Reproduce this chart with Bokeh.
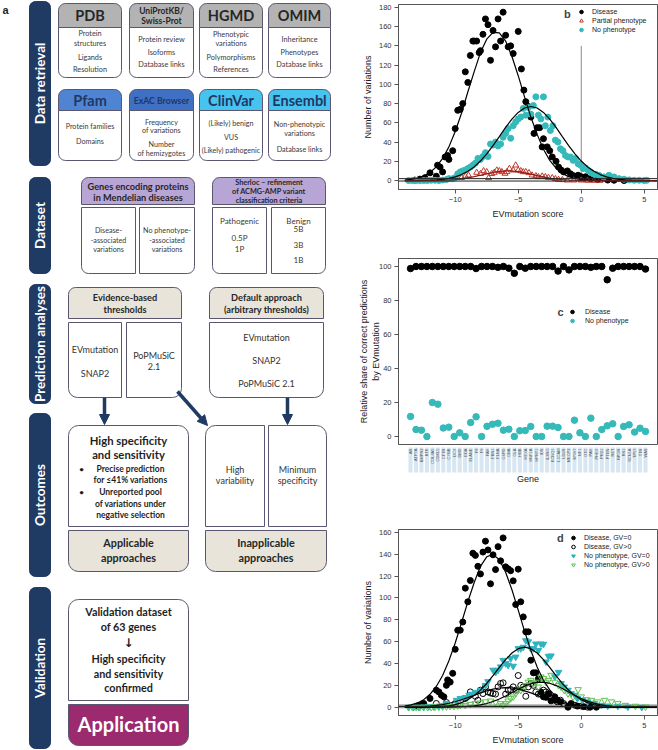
import math
from bokeh.plotting import figure
from bokeh.models import (Range1d, Legend, LegendItem, Label, Span, BoxAnnotation,
                          Arrow, NormalHead, FixedTicker)
from bokeh.layouts import row, column
from bokeh.embed import file_html
from bokeh.resources import INLINE
from bokeh.core.properties import value

# ------------------------------------------------------------------ data: panel b
b_dis_x = [-13.2, -12.8, -12.4, -12.0, -11.5, -11.4, -11.2, -11.0, -10.8, -10.6, -10.5, -10.2,
           -10.0, -9.8, -9.6, -9.4, -9.2, -9.0, -8.8, -8.6, -8.5, -8.3, -8.1, -8.0, -7.8, -7.6,
           -7.4, -7.2, -7.0, -6.8, -6.6, -6.4, -6.2, -6.0, -5.8, -5.6, -5.4, -5.0, -4.75, -4.55,
           -4.4, -4.2, -4.0, -3.75, -3.5, -3.3, -3.1, -3.0, -2.7, -2.5, -2.3, -2.0, -1.8, -1.6,
           -1.4, -1.1, -0.85, -0.6, -0.25, 0.0, 0.35, 0.75, 1.3, 2.1, 2.6, 3.4]
b_dis_y = [0.5, 1.5, 3, 8, 4.5, 16, 14, 9, 24.5, 26, 22, 31, 54, 73, 74, 80, 113, 102, 130, 145,
           145, 145, 133, 135, 152, 168, 162, 125, 156, 139, 168, 145, 175, 151, 139, 140, 132,
           155, 116, 94, 82, 77, 66, 49, 55, 55, 35, 43.5, 35, 31, 24.5, 20, 14, 11, 9, 10, 7, 5,
           5.5, 4, 4, 2, 1, 0.5, 0.3, 0]
b_par_x = [-9.5, -9.2, -8.95, -8.3, -8.0, -7.75, -7.5, -7.35, -7.1, -6.9, -6.7, -6.5, -6.3,
           -6.05, -5.9, -5.7, -5.4, -5.2, -5.0, -4.8, -4.6, -4.4, -4.15, -3.9, -3.6, -3.4, -3.1,
           -2.85, -2.6, -2.3, -2.05, -1.8, -1.5, -1.1, -0.6, 0.0, 0.5, 1.0, 1.5]
b_par_y = [3, 4.5, 5.5, 8.3, 7, 10, 9, 2.8, 7, 8.3, 10.7, 10, 9, 7.3, 9, 12.4, 10.7, 15.9, 10.7,
           10, 9, 9, 8, 5.5, 4.8, 3.8, 4.5, 3.8, 3, 2.8, 1.7, 1, 0.7, 0.3, 0.3, 0.3, 0, 0, 0]
b_nop_x = [-13.7, -13.4, -13.1, -12.8, -12.5, -12.2, -11.9, -11.6, -11.3, -11.0, -10.7, -10.5,
           -10.2, -10.0, -9.8, -9.6, -9.4, -9.2, -9.0, -8.8, -8.6, -8.4, -8.2, -8.0, -7.8, -7.6,
           -7.4, -7.2, -7.0, -6.8, -6.6, -6.4, -6.2, -6.0, -5.8, -5.6, -5.4, -5.2, -5.0, -4.8,
           -4.6, -4.4, -4.2, -4.0, -3.8, -3.6, -3.4, -3.2, -3.0, -2.85, -2.65, -2.45, -2.25,
           -2.05, -1.85, -1.65, -1.45, -1.25, -1.05, -0.85, -0.65, -0.45, -0.25, -0.05, 0.15,
           0.35, 0.55, 0.75, 0.95, 1.15, 1.4, 1.8, 2.2, 2.6, 3.0, 3.4, 3.8, 4.2, 4.6, 5.0, 5.2]
b_nop_y = [0, 0, 0, 0, 0, 0, 0.3, 0.3, 0, 0.5, 1, 2, 2,
           3, 7, 9, 10, 11, 12.5, 14, 16, 18, 23, 22, 25, 29, 25, 38, 37, 40, 36, 38, 45, 49,
           54, 44, 57, 61, 64, 66, 75, 68, 76, 69, 78, 87, 68, 64, 87, 57, 66, 52, 57, 42, 40,
           33, 31, 26, 24.5, 24.5, 21, 23, 17.5, 16, 12.5, 13, 10.7, 9, 7, 6.5, 5.5, 3.8, 5.5,
           3.8, 2, 1.4, 0.7, 0.3, 0.3, 0, 0.3]

# fitted curves on a 0.5-step grid
fit_x = [-14.0, -13.5, -13.0, -12.5, -12.0, -11.5, -11.0, -10.5, -10.0, -9.5, -9.0, -8.5, -8.0,
         -7.5, -7.0, -6.5, -6.0, -5.5, -5.0, -4.5, -4.0, -3.5, -3.0, -2.5, -2.0, -1.5, -1.0,
         -0.5, 0.0, 0.5, 1.0, 1.5, 2.0, 2.5, 3.0, 3.5, 4.0, 4.5, 5.0, 5.5, 6.0]
b_fit_dis = [0.6, 1.2, 2.4, 4.6, 8.3, 14.2, 23, 35, 51, 70, 92, 113, 133, 147, 154, 153.5, 145,
             129, 109, 87, 66, 48, 32.5, 21, 12.8, 7.4, 4.1, 2.1, 1.0, 0.5, 0.2, 0.1, 0, 0, 0,
             0, 0, 0, 0, 0, 0]
b_fit_nop = [0, 0.05, 0.1, 0.2, 0.4, 0.8, 1.3, 2.3, 3.8, 6.2, 9.6, 14.2, 20.3, 27.7, 36.4, 45.7,
             55.2, 63.8, 70.8, 75.4, 77, 75.4, 70.8, 63.8, 55.2, 45.7, 36.4, 27.7, 20.3, 14.2,
             9.6, 6.2, 3.8, 2.3, 1.3, 0.8, 0.4, 0.2, 0.1, 0.05, 0]
b_fit_par = [0, 0, 0, 0.05, 0.08, 0.15, 0.3, 0.6, 1.1, 1.8, 2.8, 4.0, 5.5, 7.0, 8.4, 9.4, 10,
             9.9, 9.2, 8.1, 6.7, 5.2, 3.8, 2.6, 1.6, 1.0, 0.6, 0.3, 0.15, 0.07, 0.03, 0, 0, 0,
             0, 0, 0, 0, 0, 0, 0]
b_baselines = [2, -0.5]
b_zero_guide_top = 140

# ------------------------------------------------------------------ data: panel c
genes = ["AR", "ATP7A", "BMPR2", "BTK", "COL4A5", "CDKL5", "CFTR", "CYBB", "DCX", "DMD",
         "EDA", "ELANE", "F8", "F9", "FAH", "FBN1", "FLNA", "G6PD", "GBA", "GLA",
         "HBB", "HEXA", "HNF1A", "HPRT1", "IDS", "IL2RG", "KCNQ1", "L1CAM", "LDLR", "MECP2",
         "MYH7", "NF1", "OTC", "PAH", "PHEX", "PKD1", "PTEN", "RET", "RPGR", "RS1",
         "SCN1A", "TP53", "TTR", "WAS"]
c_dis = [98.8, 100, 100, 100, 100, 100, 100, 100, 100, 100,
         100, 100, 98.8, 100, 100, 100, 99.5, 100, 99, 96,
         100, 99, 100, 100, 100, 100, 100, 97.3, 100, 98,
         100, 100, 100, 99.5, 100, 100, 92.2, 99, 100, 100,
         100, 100, 100, 98.5]
c_nop = [11.8, 4.1, 3.7, 0, 20, 19, 5, 5.5, 0, 2.2,
         0, 8.2, 11.6, 0, 6, 7.2, 7.8, 3.7, 4.3, 0,
         3.4, 3.5, 5.9, 0, 0, 6.1, 6.1, 5.3, 0, 0,
         9.6, 2.2, 0, 10.8, 0, 4.1, 6.3, 7.5, 0, 5.9,
         6.9, 2.6, 4.9, 3.0]
gene_pos = list(range(1, len(genes) + 1))

# ------------------------------------------------------------------ data: panel d
d_dis0_x = [-13.0, -12.8, -12.5, -12.0, -11.5, -11.3, -11.1, -10.9, -10.7, -10.6, -10.4, -10.2,
            -10.0, -9.8, -9.6, -9.4, -9.2, -9.0, -8.8, -8.6, -8.4, -8.2, -8.0, -7.8, -7.6, -7.4,
            -7.2, -7.0, -6.8, -6.6, -6.4, -6.2, -6.0, -5.8, -5.6, -5.4, -5.2, -5.0, -4.8, -4.6,
            -4.4, -4.2, -4.0, -3.8, -3.6, -3.4, -3.2, -3.0, -2.8, -2.6, -2.4, -2.1, -1.9, -1.65,
            -1.05, -0.8, -0.3, 0.2, 0.7, 1.2]
d_dis0_y = [1, 1.5, 3.4, 8, 15.6, 14, 11, 9.5, 20, 25, 23, 31, 53, 70.5, 70.5, 78, 109, 96.5,
            116, 141, 139, 129, 122, 142, 152, 144, 113, 139.5, 126, 147, 134, 155, 128.5,
            126.7, 125, 115.7, 94, 126.4, 96.5, 82.7, 69, 69, 43, 31.5, 31.5, 26, 14, 9.5, 9,
            12, 5.8, 9.5, 6.4, 5, 0, 3.4, 1, 0.5, 0, 0]
d_dis1_x = [-11.5, -10.7, -10.0, -9.2, -8.8, -8.4, -8.2, -8.0, -7.8, -7.6, -7.4, -7.2, -7.0,
            -6.8, -6.6, -6.4, -6.2, -6.0, -5.8, -5.6, -5.4, -5.2, -5.0, -4.8, -4.6, -4.4, -4.2,
            -4.0, -3.8, -3.6, -3.4, -3.2, -3.0, -2.8, -2.6, -2.4, -2.1, -1.9, -1.65, -1.4, -0.5,
            0.0, 0.5]
d_dis1_y = [3.4, 4.3, 3.4, 8, 14, 10, 6.4, 15.6, 12.5, 18.6, 14, 13, 12.5, 12, 18.6, 21.7,
            22.3, 12, 15.6, 16.2, 18.6, 15.6, 29, 20, 18.6, 10, 18.6, 21.7, 20, 14, 12, 12,
            15.6, 14, 12.5, 8, 6.4, 5, 6.4, 3.4, 1.8, 1, 0]
d_nop0_x = [-13.7, -13.3, -12.9, -12.5, -12.1, -11.7, -11.3, -11.0, -10.7, -9.9, -9.6, -9.2,
            -8.9, -8.7, -8.4, -8.0, -7.6, -7.4, -7.0, -6.8, -6.6, -6.4, -6.2, -6.0, -5.8, -5.6,
            -5.4, -5.2, -5.0, -4.8, -4.6, -4.4, -4.2, -4.0, -3.8, -3.6, -3.4, -3.2, -3.0, -2.8,
            -2.6, -2.4, -2.1, -1.8, -1.6, -1.35, -1.05, -0.8, -0.5, -0.3, 0.1, 0.5, 1.05, 1.6,
            2.1, 2.9, 3.7, 4.8]
d_nop0_y = [0, 0, 0, 0.3, 0.5, 0.5, 1, 1.5, 3.4, 6.4, 8, 9, 11, 12, 13.7, 15.6, 20, 23.5, 34,
            32, 34, 37, 43, 40, 38.5, 44.6, 37.6, 46, 53.7, 53.7, 55, 61, 60, 53.7, 53.7, 58,
            52, 58, 57.7, 41.5, 46.7, 47, 28, 32, 21.7, 18.6, 15.6, 12.5, 11, 8, 6.4, 5, 3.4,
            1.8, 1.2, 1, 0.3, 0]
d_nop1_x = [-13.7, -13.4, -13.1, -12.8, -12.5, -12.2, -11.9, -11.6, -11.3, -11.0, -10.7, -10.4,
            -10.1, -9.8, -9.6, -9.2, -8.8, -8.4, -8.0, -7.6, -7.2, -6.8, -6.4, -6.2, -6.0, -5.8,
            -5.6, -5.4, -5.2, -5.0, -4.8, -4.6, -4.4, -4.2, -4.0, -3.8, -3.6, -3.4, -3.2, -3.0,
            -2.8, -2.6, -2.4, -2.1, -1.8, -1.6, -1.35, -1.05, -0.65, -0.25, 0.0, 0.4, 0.8, 1.3,
            1.85, 2.4, 2.9, 3.5, 4.3, 5.1]
d_nop1_y = [0, 0, 0, 0, 0, 0, 0, 0.3, 0.3, 0.5, 0.5, 1, 1, 1.5, 1.8, 1.8, 2.7, 3.4, 4, 5, 5.8,
            4.6, 3.4, 1.8, 3.4, 5.8, 8, 9.5, 12.5, 15.6, 15.6, 17, 20, 23, 24.7, 21.7, 23, 18.6,
            27.8, 26.3, 23, 24.7, 29.3, 23, 20, 18.6, 15.6, 12.5, 9.5, 16.2, 9.5, 7, 6.4, 5,
            6.4, 5, 3.4, 1.8, 1, 0.3]
d_fit_dis0 = [1.0, 2.1, 3.9, 6.9, 11.8, 19, 29, 42.5, 58.8, 77.3, 96.5, 114, 129, 137.7, 139.9,
              135, 123.6, 107.5, 88.9, 69.7, 52, 36.8, 24.7, 15.8, 9.6, 5.5, 3.0, 1.6, 0.8,
              0.4, 0.2, 0.1, 0, 0, 0, 0, 0, 0, 0, 0, 0]
d_fit_dis1 = [0.1, 0.2, 0.36, 0.6, 1.0, 1.6, 2.4, 3.6, 5.0, 6.8, 8.8, 10.9, 13.1, 15.0, 16.6,
              17.6, 18, 17.6, 16.6, 15.0, 13.1, 10.9, 8.8, 6.8, 5.0, 3.6, 2.4, 1.6, 1.0, 0.6,
              0.36, 0.2, 0.1, 0, 0, 0, 0, 0, 0, 0, 0]
d_fit_nop0 = [0, 0, 0.03, 0.08, 0.17, 0.35, 0.7, 1.3, 2.4, 4.2, 6.8, 10.6, 15.6, 21.7, 28.9,
              36.4, 43.6, 49.6, 53.6, 55, 53.6, 49.6, 43.6, 36.4, 28.9, 21.7, 15.6, 10.6, 6.8,
              4.2, 2.4, 1.3, 0.7, 0.35, 0.17, 0.08, 0.03, 0, 0, 0, 0]
d_fit_nop1 = [0, 0, 0, 0, 0, 0.02, 0.04, 0.1, 0.2, 0.4, 0.7, 1.3, 2.1, 3.4, 5.2, 7.5, 10.2,
              13.3, 16.5, 19.3, 21.5, 22.8, 22.9, 21.9, 19.8, 17.1, 14, 10.8, 8.0, 5.6, 3.7,
              2.4, 1.4, 0.8, 0.4, 0.2, 0.1, 0.05, 0, 0, 0]
d_zero_band = (-1.2, 3.0)
d_zero_line = 0.6

x_ticks = [-10, -5, 0, 5]
b_yticks = [0, 20, 40, 60, 80, 100, 120, 140, 160, 180]
c_yticks = [0, 20, 40, 60, 80, 100]
d_yticks = [0, 20, 40, 60, 80, 100, 120, 140, 160]

# ------------------------------------------------------------------ styles
FC = "Lato"
AX = "Liberation Sans"
NAVY = "#1f3a63"
BOXL = "#5b5670"
TXT = "#2b2b2b"
GRAY_H = "#b3b3b3"
BLUE_H = "#4f84d3"
BLUE_H2 = "#3f70c3"
CYAN_H = "#47c3ef"
LAV_H = "#b7a5d6"
BEIGE = "#e8e4da"
PURPLE = "#9b2a6e"
CYAN = "#35b9b9"
CYAN_T = "#2fb3bf"
GREEN = "#5fbf52"
RED = "#c0392b"

# ------------------------------------------------------------------ flowchart (panel a)
fc = figure(width=336, height=750, x_range=Range1d(0, 336), y_range=Range1d(-750, 0),
            x_axis_type=None, y_axis_type=None, output_backend="svg", toolbar_location=None,
            min_border=0)
fc.grid.visible = False
fc.outline_line_color = None


def box(x0, x1, y0, y1, fill, line=BOXL, r=(0, 0, 0, 0), lw=1.0):
    kw = dict(left=[x0], right=[x1], top=[-y0], bottom=[-y1], fill_color=fill,
              line_color=line, line_width=lw)
    try:
        fc.quad(border_radius=r, **kw)
    except Exception:
        fc.quad(**kw)


def t(x, y, s, size, bold=False, color=TXT, angle=0.0, align="center", font=FC):
    fc.text(x=[x], y=[-y], text=[s], text_font=value(font), text_font_size=f"{size}px",
            text_font_style="bold" if bold else "normal", text_color=color,
            text_align=align, text_baseline="middle", angle=angle)


TOP = (7, 7, 0, 0)
BOT = (0, 0, 7, 7)

t(2, 9, "a", 11, bold=True, color="#222222", align="left", font=AX)

sections = [("Data retrieval", 1, 165), ("Dataset", 177, 273), ("Prediction analyses", 284, 403),
            ("Outcomes", 413, 576), ("Validation", 587, 748)]
for name, y0, y1 in sections:
    box(29, 50, y0, y1, NAVY, line=NAVY, r=(6, 6, 6, 6))
    t(39.5, (y0 + y1) / 2, name, 13.5, bold=True, color="white", angle=math.pi / 2)

cols = [(58, 121), (129, 193), (199, 262), (268, 330)]
row1_heads = [[("PDB", 15, 14.5)], [("UniProtKB/", 10, 8.5), ("Swiss-Prot", 20, 8.5)],
              [("HGMD", 15, 14.5)], [("OMIM", 15, 14.5)]]
row1_body = [[("Protein", 33), ("structures", 43), ("Ligands", 57), ("Resolution", 69)],
             [("Protein review", 39), ("Isoforms", 52), ("Database links", 64)],
             [("Phenotypic", 34), ("variations", 43), ("Polymorphisms", 57), ("References", 69)],
             [("Inheritance", 39), ("Phenotypes", 52), ("Database links", 64)]]
for (x0, x1), heads, body in zip(cols, row1_heads, row1_body):
    box(x0, x1, 3, 27, GRAY_H, r=TOP)
    box(x0, x1, 27, 77, "white", r=BOT)
    for s, yy, sz in heads:
        t((x0 + x1) / 2, yy, s, sz, bold=True, color="#262626")
    for s, yy in body:
        t((x0 + x1) / 2, yy, s, 7.3, color="#3a3a3a")

row2_fill = [BLUE_H, BLUE_H2, CYAN_H, CYAN_H]
row2_heads = [("Pfam", 14.5), ("ExAC Browser", 8.7), ("ClinVar", 14.5), ("Ensembl", 14.5)]
row2_body = [[("Protein families", 126), ("Domains", 141)],
             [("Frequency", 122), ("of variations", 129.5), ("Number", 144), ("of hemizygotes", 152.5)],
             [("(Likely) benign", 123), ("VUS", 137), ("(Likely) pathogenic", 150)],
             [("Non-phenotypic", 124), ("variations", 133), ("Database links", 149)]]
for (x0, x1), fill, (hs, hsz), body in zip(cols, row2_fill, row2_heads, row2_body):
    box(x0, x1, 89, 110, fill, r=TOP)
    box(x0, x1, 110, 160, "white", r=BOT)
    t((x0 + x1) / 2, 99.5, hs, hsz, bold=True, color="#1f3864")
    for s, yy in body:
        t((x0 + x1) / 2, yy, s, 7.2, color="#3a3a3a")

# Dataset
box(81, 194, 177, 204, LAV_H, r=TOP)
t(137.5, 185.5, "Genes encoding proteins", 9.2, bold=True, color="#262626")
t(137.5, 197, "in Mendelian diseases", 9.2, bold=True, color="#262626")
box(81, 135, 207, 273, "white", r=(0, 0, 0, 7))
box(139, 194, 207, 273, "white", r=(0, 0, 7, 0))
for i, s in enumerate(["Disease-", "-associated", "variations"]):
    t(108, 230 + 9.5 * i, s, 7.2, color="#3a3a3a")
for i, s in enumerate(["No phenotype-", "-associated", "variations"]):
    t(166.5, 230 + 9.5 * i, s, 7.2, color="#3a3a3a")
box(212, 325, 177, 204, LAV_H, r=TOP)
for s, yy in [("Sherloc \u2013 refinement", 182), ("of ACMG-AMP variant", 191),
              ("classification criteria", 200)]:
    t(268.5, yy, s, 7.3, bold=True, color="#262626")
box(212, 266, 207, 273, "white", r=(0, 0, 0, 7))
box(271, 325, 207, 273, "white", r=(0, 0, 7, 0))
for s, yy in [("Pathogenic", 220), ("0.5P", 237), ("1P", 248)]:
    t(239, yy, s, 8, color="#3a3a3a")
for s, yy in [("Benign", 220), ("5B", 228.5), ("3B", 244), ("1B", 259)]:
    t(298, yy, s, 8, color="#3a3a3a")

# Prediction analyses
box(68, 181, 287, 318, BEIGE, r=TOP)
t(124.5, 297, "Evidence-based", 9.2, bold=True, color="#262626")
t(124.5, 308.5, "thresholds", 9.2, bold=True, color="#262626")
box(68, 121, 322, 397, "white", r=(0, 0, 0, 9))
box(126, 181, 322, 397, "white", r=(0, 0, 9, 0))
t(94.5, 349, "EVmutation", 9, color="#333333")
t(94.5, 373, "SNAP2", 9, color="#333333")
t(153.5, 355, "PoPMuSiC", 9, color="#333333")
t(153.5, 366, "2.1", 9, color="#333333")
box(209, 323, 287, 318, BEIGE, r=TOP)
t(266, 297, "Default approach", 9.2, bold=True, color="#262626")
t(266, 308.5, "(arbitrary thresholds)", 9.2, bold=True, color="#262626")
box(209, 323, 322, 397, "white", r=(0, 0, 9, 9))
t(266, 337, "EVmutation", 9, color="#333333")
t(266, 360, "SNAP2", 9, color="#333333")
t(266, 383, "PoPMuSiC 2.1", 9, color="#333333")

for xs, ys, xe, ye in [(104, 397, 104, 424), (177, 391, 207, 425), (287, 397, 287, 424)]:
    fc.add_layout(Arrow(end=NormalHead(size=10, fill_color=NAVY, line_color=NAVY),
                        x_start=xs, y_start=-ys, x_end=xe, y_end=-ye,
                        line_color=NAVY, line_width=3.5))

# Outcomes
box(68, 188, 425, 526, "white", r=(10, 10, 0, 0))
t(128, 440, "High specificity", 11.3, bold=True, color="#1e1e1e")
t(128, 454, "and sensitivity", 11.3, bold=True, color="#1e1e1e")
for s, yy in [("Precise prediction", 468), ("for \u226441% variations", 479.5),
              ("Unreported pool", 491), ("of variations under", 503), ("negative selection", 514)]:
    t(130, yy, s, 8.5, bold=True, color="#1e1e1e")
t(81, 468, "\u2022", 8, bold=True, color="#1e1e1e")
t(81, 491, "\u2022", 8, bold=True, color="#1e1e1e")
box(68, 188, 530, 571, BEIGE, r=(0, 0, 10, 10))
t(128, 542, "Applicable", 10.8, bold=True, color="#262626")
t(128, 557, "approaches", 10.8, bold=True, color="#262626")
box(205, 264, 425, 526, "white", r=(10, 0, 0, 0))
box(268, 326, 425, 526, "white", r=(0, 10, 0, 0))
t(234.5, 469, "High", 9, color="#333333")
t(234.5, 480, "variability", 9, color="#333333")
t(297, 469, "Minimum", 9, color="#333333")
t(297, 480, "specificity", 9, color="#333333")
box(205, 326, 530, 571, BEIGE, r=(0, 0, 10, 10))
t(265.5, 542, "Inapplicable", 10.8, bold=True, color="#262626")
t(265.5, 557, "approaches", 10.8, bold=True, color="#262626")

# Validation
box(68, 188, 599, 700, "white", r=(10, 10, 0, 0))
for s, yy in [("Validation dataset", 611), ("of 63 genes", 626), ("High specificity", 658),
              ("and sensitivity", 673), ("confirmed", 687)]:
    t(128, yy, s, 10.8, bold=True, color="#1e1e1e")
t(128, 642.5, "\u2193", 12, bold=True, color="#1e1e1e", font="DejaVu Sans")
box(68, 188, 704, 745, PURPLE, line=BOXL, r=(0, 0, 10, 10))
t(128, 723.5, "Application", 20, bold=True, color="white")


# ------------------------------------------------------------------ chart helpers
def style(p, ylabel, yticks, xlabel=None, xticks=None, ystand=3):
    p.outline_line_color = "#555555"
    p.grid.visible = False
    for ax in p.axis:
        ax.major_tick_in = 0
        ax.major_tick_out = 4
        ax.minor_tick_line_color = None
        ax.axis_line_color = "#555555"
        ax.major_tick_line_color = "#555555"
        ax.major_label_text_font = AX
        ax.major_label_text_font_size = "7.5px"
        ax.major_label_text_color = "#333333"
        ax.major_label_standoff = 3
        ax.axis_label_text_font = AX
        ax.axis_label_text_font_size = "9px"
        ax.axis_label_text_font_style = "normal"
        ax.axis_label_text_color = "#222222"
    p.yaxis.ticker = FixedTicker(ticks=yticks)
    p.yaxis.axis_label = ylabel
    p.yaxis.axis_label_standoff = ystand
    if xticks is not None:
        p.xaxis.ticker = FixedTicker(ticks=xticks)
        p.xaxis.axis_label = xlabel
        p.xaxis.axis_label_standoff = 4


def legend(items, loc, lh=9, standoff=6):
    lg = Legend(items=items, location=loc)
    lg.border_line_color = None
    lg.background_fill_alpha = 0
    lg.label_text_font = AX
    lg.label_text_font_size = "7px"
    lg.label_text_color = "#222222"
    lg.glyph_width = 10
    lg.glyph_height = lh
    lg.label_height = lh
    lg.spacing = 0
    lg.padding = 0
    lg.margin = 0
    lg.label_standoff = standoff
    return lg


# ------------------------------------------------------------------ panel b
pb = figure(frame_width=259, frame_height=185, x_range=Range1d(-14.5, 6.05),
            y_range=Range1d(-9.3, 183), min_border_left=62, min_border_right=1,
            min_border_top=4, min_border_bottom=58, output_backend="svg",
            toolbar_location=None)
style(pb, "Number of variations", b_yticks, "EVmutation score", x_ticks)
for yb in b_baselines:
    pb.add_layout(Span(location=yb, dimension="width", line_color="#222222", line_width=1))
pb.segment(x0=[0], y0=[0], x1=[0], y1=[b_zero_guide_top], line_color="#888888", line_width=1)
r_bd = pb.scatter(b_dis_x, b_dis_y, size=6, fill_color="black", line_color="black")
r_bp = pb.scatter(b_par_x, b_par_y, marker="triangle", size=6, fill_color=None,
                  line_color=RED, line_width=1)
r_bn = pb.scatter(b_nop_x, b_nop_y, size=6, fill_color=CYAN, line_color=CYAN)
pb.line(fit_x, b_fit_dis, line_color="black", line_width=1.2)
pb.line(fit_x, b_fit_nop, line_color="black", line_width=1.2)
pb.line(fit_x, b_fit_par, line_color="#8b1a1a", line_width=1.2)
pb.add_layout(legend([LegendItem(label="Disease", renderers=[r_bd]),
                      LegendItem(label="Partial phenotype", renderers=[r_bp]),
                      LegendItem(label="No phenotype", renderers=[r_bn])], (178, 155)))
pb.add_layout(Label(x=-1.1, y=173.6, text="b", text_font=AX, text_font_size="11px",
                    text_font_style="bold", text_align="center", text_baseline="middle"))

# ------------------------------------------------------------------ panel c
c_xr = Range1d(-1.2, 46.2)
pc = figure(frame_width=259, frame_height=186, x_range=c_xr, y_range=Range1d(-4.7, 104.7),
            min_border_left=62, min_border_right=1, min_border_top=11, min_border_bottom=2,
            output_backend="svg", toolbar_location=None)
style(pc, "Relative share of correct predictions\nby EVmutation", c_yticks, ystand=-5)
pc.xaxis.visible = False
r_cd = pc.scatter(gene_pos, c_dis, size=6.5, fill_color="black", line_color="black")
r_cn = pc.scatter(gene_pos, c_nop, size=6.5, fill_color=CYAN, line_color=CYAN)
pc.add_layout(legend([LegendItem(label="Disease", renderers=[r_cd]),
                      LegendItem(label="No phenotype", renderers=[r_cn])], (169, 119),
                     standoff=8))
pc.add_layout(Label(x=28.45, y=73.1, text="c", text_font=AX, text_font_size="11px",
                    text_font_style="bold", text_align="center", text_baseline="middle"))

pcl = figure(frame_width=259, frame_height=44, x_range=c_xr, y_range=Range1d(-44, 0),
             min_border_left=62, min_border_right=1, min_border_top=0, min_border_bottom=0,
             x_axis_type=None, y_axis_type=None, output_backend="svg", toolbar_location=None)
pcl.grid.visible = False
pcl.outline_line_color = None
pcl.vbar(x=gene_pos, width=0.75, top=-1, bottom=-26, fill_color="#d6e6f2", line_color=None)
pcl.text(x=gene_pos, y=[-2.0] * len(genes), text=genes, angle=math.pi / 2,
         text_font=value(AX), text_font_size="4px", text_color="#555555",
         text_align="right", text_baseline="middle")
pcl.text(x=[22.5], y=[-32], text=["Gene"], text_font=value(AX), text_font_size="9px",
         text_color="#222222", text_align="center", text_baseline="middle")

# ------------------------------------------------------------------ panel d
pd_ = figure(frame_width=259, frame_height=186, x_range=Range1d(-14.5, 6.05),
             y_range=Range1d(-7.6, 162.7), min_border_left=62, min_border_right=1,
             min_border_top=39, min_border_bottom=35, output_backend="svg",
             toolbar_location=None)
style(pd_, "Number of variations", d_yticks, "EVmutation score", x_ticks)
pd_.add_layout(BoxAnnotation(bottom=d_zero_band[0], top=d_zero_band[1], fill_color="#bdbdbd",
                             fill_alpha=0.9, line_color=None, level="underlay"))
pd_.add_layout(Span(location=d_zero_line, dimension="width", line_color="#222222", line_width=1.5))
r_d0 = pd_.scatter(d_dis0_x, d_dis0_y, size=6, fill_color="black", line_color="black")
r_d1 = pd_.scatter(d_dis1_x, d_dis1_y, size=6, fill_color=None, line_color="black", line_width=1)
r_n0 = pd_.scatter(d_nop0_x, d_nop0_y, marker="inverted_triangle", size=6.5, fill_color=CYAN_T,
                   line_color=CYAN_T)
r_n1 = pd_.scatter(d_nop1_x, d_nop1_y, marker="inverted_triangle", size=6.5, fill_color=None,
                   line_color=GREEN, line_width=1)
for curve in [d_fit_dis0, d_fit_dis1, d_fit_nop0, d_fit_nop1]:
    pd_.line(fit_x, curve, line_color="black", line_width=1.2)
pd_.add_layout(legend([LegendItem(label="Disease, GV=0", renderers=[r_d0]),
                       LegendItem(label="Disease, GV>0", renderers=[r_d1]),
                       LegendItem(label="No phenotype, GV=0", renderers=[r_n0]),
                       LegendItem(label="No phenotype, GV>0", renderers=[r_n1])],
                      (170, 146)))
pd_.add_layout(Label(x=-1.65, y=154.7, text="d", text_font=AX, text_font_size="11px",
                     text_font_style="bold", text_align="center", text_baseline="middle"))

layout = row(fc, column(pb, pc, pcl, pd_))
open("out.html", "w").write(file_html(layout, INLINE))
